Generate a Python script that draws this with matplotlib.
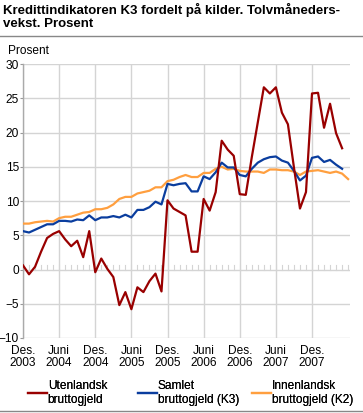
import numpy as np
import matplotlib
matplotlib.use("Agg")
import matplotlib.pyplot as plt
from matplotlib.lines import Line2D

plt.rcParams["font.family"] = ["Liberation Sans", "DejaVu Sans"]

# Twelve-month growth, monthly from Dec 2003
utenlandsk = [0.6, -0.7, 0.4, 2.6, 4.6, 5.2, 5.6, 4.4, 3.4, 4.2, 1.8, 5.6,
              -0.4, 1.6, 0.1, -1.1, -5.2, -3.3, -5.8, -2.6, -3.3, -1.7, -0.6, -3.2,
              10.1, 8.9, 8.4, 7.9, 2.6, 2.6, 10.3, 8.6, 11.3, 18.8, 17.5, 16.6,
              11.0, 10.9, 16.4, 21.5, 26.6, 25.7, 26.6, 22.9, 21.2, 14.9, 8.9, 11.3,
              25.7, 25.8, 20.7, 24.2, 19.9, 17.7]
samlet = [5.6, 5.4, 5.8, 6.2, 6.6, 6.6, 7.1, 7.1, 7.0, 7.3, 7.2, 7.9,
          7.2, 7.6, 7.6, 7.8, 7.6, 8.0, 7.6, 8.7, 8.7, 9.1, 9.9, 9.5,
          12.5, 12.3, 12.5, 12.6, 11.4, 11.4, 13.6, 13.2, 14.2, 15.6, 14.9, 14.9,
          13.8, 13.6, 14.7, 15.6, 16.1, 16.4, 16.5, 15.9, 15.6, 14.4, 13.0, 13.7,
          16.3, 16.5, 15.7, 16.0, 15.3, 14.7]
innenlandsk = [6.7, 6.7, 6.9, 7.0, 7.1, 7.0, 7.5, 7.7, 7.7, 8.0, 8.3, 8.4,
               8.8, 8.8, 9.0, 9.5, 10.3, 10.6, 10.6, 11.1, 11.3, 11.5, 12.0, 12.0,
               12.9, 13.1, 13.5, 13.8, 13.5, 13.5, 14.1, 14.1, 14.7, 15.0, 14.6, 14.7,
               14.4, 14.3, 14.3, 14.3, 14.1, 14.6, 14.6, 14.5, 14.5, 14.3, 13.8, 14.3,
               14.4, 14.5, 14.3, 14.1, 14.3, 14.0, 13.2]

tick_labels = ["Des.\n2003", "Juni\n2004", "Des.\n2004", "Juni\n2005", "Des.\n2005",
               "Juni\n2006", "Des.\n2006", "Juni\n2007", "Des.\n2007"]
series_names = ["Utenlandsk\nbruttogjeld", "Samlet\nbruttogjeld (K3)",
                "Innenlandsk\nbruttogjeld (K2)"]
colors = ["#990000", "#0a3d9e", "#ff9f3f"]

grid_col = "#d4d4d4"
fs = 8.6

fig = plt.figure(figsize=(3.63, 4.13), dpi=100)
ax = fig.add_axes([0.0634, 0.1816, 0.9006, 0.6634])

# grid
for v in range(-10, 31, 5):
    ax.axhline(v, color=grid_col, lw=1.0, zorder=0)
for i in range(0, 49, 6):
    ax.axvline(i, color=grid_col, lw=1.0, zorder=0)

# monthly minor ticks along the zero line
for m in range(0, 55):
    ax.plot([m, m], [0, 0.7], color=grid_col, lw=0.8, zorder=1)

ax.plot(np.arange(len(innenlandsk)), innenlandsk, color=colors[2], lw=1.6, zorder=3)
ax.plot(np.arange(len(samlet)), samlet, color=colors[1], lw=1.6, zorder=4)
ax.plot(np.arange(len(utenlandsk)), utenlandsk, color=colors[0], lw=1.6, zorder=5)

ax.set_xlim(0, 54.3)
ax.set_ylim(-10, 30)
ax.set_yticks(range(-10, 31, 5))
ax.set_xticks(range(0, 49, 6))
ax.set_xticklabels(tick_labels, fontsize=fs, linespacing=1.05)
ax.tick_params(axis="y", labelsize=fs, length=2, color="#999999", pad=1)
ax.tick_params(axis="x", length=0, pad=5)
for s in ["top", "right", "bottom"]:
    ax.spines[s].set_visible(False)
ax.spines["left"].set_color("#aaaaaa")
ax.spines["left"].set_linewidth(1.0)

# title and unit label
fig.text(0.008, 0.993, "Kredittindikatoren K3 fordelt på kilder. Tolvmåneders-\nvekst. Prosent",
         fontsize=9.5, fontweight="bold", va="top", ha="left", linespacing=1.15)
fig.add_artist(Line2D([0, 1], [0.914, 0.914], color="#888888", lw=1.0))
fig.text(0.022, 0.870, "Prosent", fontsize=fs, va="baseline", ha="left")
fig.add_artist(Line2D([0, 1], [0.005, 0.005], color="#888888", lw=1.0))

# legend, one entry per fixed column
legend_x = [28, 138, 252]
for name, c, lx in zip(series_names, colors, legend_x):
    leg = fig.legend([Line2D([], [], color=c, lw=1.6)], [name], loc="lower left",
                     bbox_to_anchor=(lx / 363, 0.017), frameon=False, fontsize=fs,
                     handlelength=1.6, handletextpad=0.05, borderpad=0,
                     borderaxespad=0)
    fig.add_artist(leg)

fig.savefig("out.png", dpi=100)
